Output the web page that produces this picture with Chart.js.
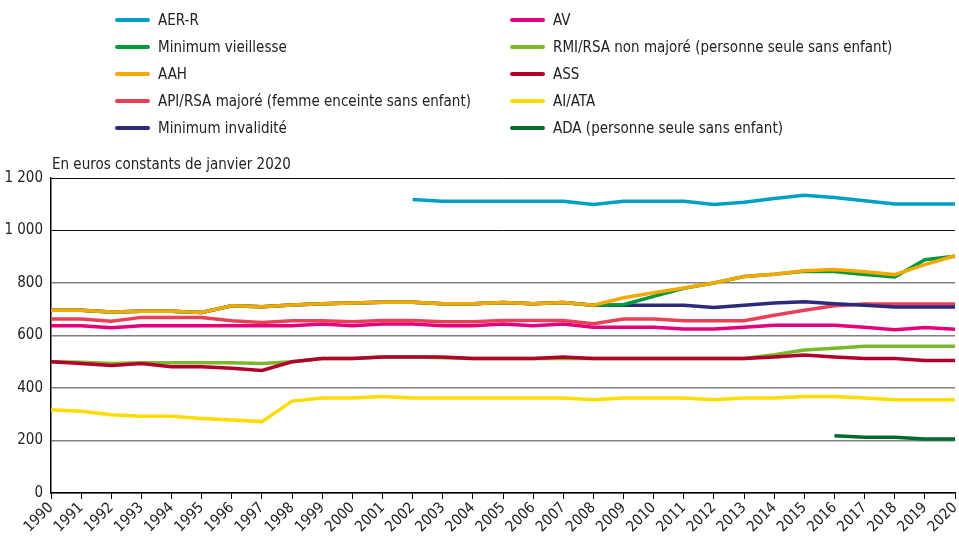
<!DOCTYPE html>
<html>
<head>
<meta charset="utf-8">
<script src="https://cdn.jsdelivr.net/npm/chart.js@4.4.1/dist/chart.umd.min.js"></script>
<style>
  html, body { margin: 0; padding: 0; background: #fff; }
  #wrap { position: relative; width: 959px; height: 536px; font-family: "Liberation Sans Narrow", "DejaVu Sans Condensed", sans-serif; color: #222; }
  #chart { position: absolute; left: 0; top: 0; }
  .leg { position: absolute; font-size: 15px; line-height: 18px; white-space: nowrap; }
  .leg span.sw { position: absolute; width: 35px; height: 4px; border-radius: 2px; top: 7px; }
  .leg span.tx { position: absolute; left: 43px; top: 0; }
  #unit { position: absolute; left: 52px; top: 155px; font-size: 15px; }
</style>
</head>
<body>
<div id="wrap">
  <canvas id="chart" width="959" height="536"></canvas>
  <div id="legend"></div>
  <div id="unit">En euros constants de janvier 2020</div>
</div>
<script>
const years = ["1990","1991","1992","1993","1994","1995","1996","1997","1998","1999","2000","2001","2002","2003","2004","2005","2006","2007","2008","2009","2010","2011","2012","2013","2014","2015","2016","2017","2018","2019","2020"];

const aerR = [null,null,null,null,null,null,null,null,null,null,null,null,1118,1111,1111,1111,1111,1111,1099,1111,1111,1111,1099,1108,1122,1134,1126,1113,1101,1101,1101];
const av = [637,637,630,637,637,637,637,637,637,644,637,644,644,637,637,644,637,644,631,631,631,625,625,631,639,639,639,631,622,630,624];
const minVieillesse = [696,696,690,692,692,688,713,710,716,721,724,727,727,721,721,726,721,726,715,717,749,780,800,825,833,845,844,832,823,889,902];
const rmiRsa = [500,498,493,496,496,496,496,493,500,512,512,518,518,515,512,512,512,512,512,512,512,512,512,512,527,545,551,559,559,559,559];
const aah = [696,696,690,692,692,688,713,710,716,721,724,727,727,721,721,726,721,726,715,744,763,781,800,825,833,847,851,843,832,870,904];
const ass = [500,493,486,493,481,481,475,467,500,512,512,518,518,518,512,512,512,518,512,512,512,512,512,512,518,526,518,512,512,505,505];
const apiRsa = [663,663,654,669,669,669,656,650,656,656,652,657,657,652,652,657,657,657,645,663,663,656,656,656,677,696,713,720,720,720,720];
const aiAta = [317,311,298,292,292,284,278,272,350,362,362,368,362,362,362,362,362,362,355,362,362,362,355,362,362,368,368,362,355,355,355];
const minInvalidite = [696,696,690,692,692,688,713,710,716,721,724,727,727,721,721,726,721,726,715,715,715,715,707,715,724,729,721,715,709,709,709];
const ada = [null,null,null,null,null,null,null,null,null,null,null,null,null,null,null,null,null,null,null,null,null,null,null,null,null,null,218,212,212,206,206];

const yTicks = [0, 200, 400, 600, 800, 1000, 1200];

// legend order = two columns, read row by row
const series = [
  { label: "AER-R", data: aerR, color: "#00a0c6", order: 5, col: 0, row: 0 },
  { label: "AV", data: av, color: "#e5007d", order: 4, col: 1, row: 0 },
  { label: "Minimum vieillesse", data: minVieillesse, color: "#009a3d", order: 1, col: 0, row: 1 },
  { label: "RMI/RSA non majoré (personne seule sans enfant)", data: rmiRsa, color: "#7ab929", order: 7, col: 1, row: 1 },
  { label: "AAH", data: aah, color: "#f5a800", order: 0, col: 0, row: 2 },
  { label: "ASS", data: ass, color: "#b2002d", order: 6, col: 1, row: 2 },
  { label: "API/RSA majoré (femme enceinte sans enfant)", data: apiRsa, color: "#e94057", order: 3, col: 0, row: 3 },
  { label: "AI/ATA", data: aiAta, color: "#ffdc00", order: 8, col: 1, row: 3 },
  { label: "Minimum invalidité", data: minInvalidite, color: "#2d2a7c", order: 2, col: 0, row: 4 },
  { label: "ADA (personne seule sans enfant)", data: ada, color: "#006b2d", order: 9, col: 1, row: 4 },
];

const fmt = v => String(v).replace(/\B(?=(\d{3})+(?!\d))/g, " ");
const font = { family: "'Liberation Sans Narrow', 'DejaVu Sans Condensed', sans-serif", size: 15 };

// html legend
const legend = document.getElementById("legend");
series.forEach(s => {
  const d = document.createElement("div");
  d.className = "leg";
  d.style.left = (s.col === 0 ? 115 : 510) + "px";
  d.style.top = (11 + s.row * 27) + "px";
  d.innerHTML = '<span class="sw" style="background:' + s.color + '"></span><span class="tx">' + s.label + '</span>';
  legend.appendChild(d);
});

new Chart(document.getElementById("chart"), {
  type: "line",
  data: {
    labels: years,
    datasets: series.map(s => ({
      label: s.label,
      data: s.data,
      borderColor: s.color,
      backgroundColor: s.color,
      borderWidth: 3.5,
      pointRadius: 0,
      tension: 0,
      order: s.order,
    })),
  },
  options: {
    responsive: false,
    animation: false,
    layout: { padding: { top: 178, right: 4, left: 0, bottom: 0 } },
    plugins: { legend: { display: false }, tooltip: { enabled: false } },
    scales: {
      x: {
        offset: false,
        border: { color: "#000", width: 1.5 },
        grid: { drawOnChartArea: false, drawTicks: true, tickLength: 6, color: "#000" },
        ticks: { color: "#222", font: font, maxRotation: 45, minRotation: 45, autoSkip: false, padding: 0 },
        afterFit: scale => {
          scale.height = 43;
          scale.paddingRight = 0;
          scale.paddingLeft = 0;
        },
      },
      y: {
        min: 0,
        max: 1200,
        afterBuildTicks: scale => { scale.ticks = yTicks.map(v => ({ value: v })); },
        border: { color: "#000", width: 1.5 },
        grid: {
          drawTicks: false,
          color: ctx => (ctx.tick && ctx.tick.value >= 1000 ? "#111" : "#808080"),
          lineWidth: ctx => (ctx.tick && ctx.tick.value >= 1000 ? 1 : 1.5),
        },
        ticks: { color: "#222", font: font, padding: 8, callback: v => fmt(v) },
        afterFit: scale => { scale.width = 51; },
      },
    },
  },
});
</script>
</body>
</html>
